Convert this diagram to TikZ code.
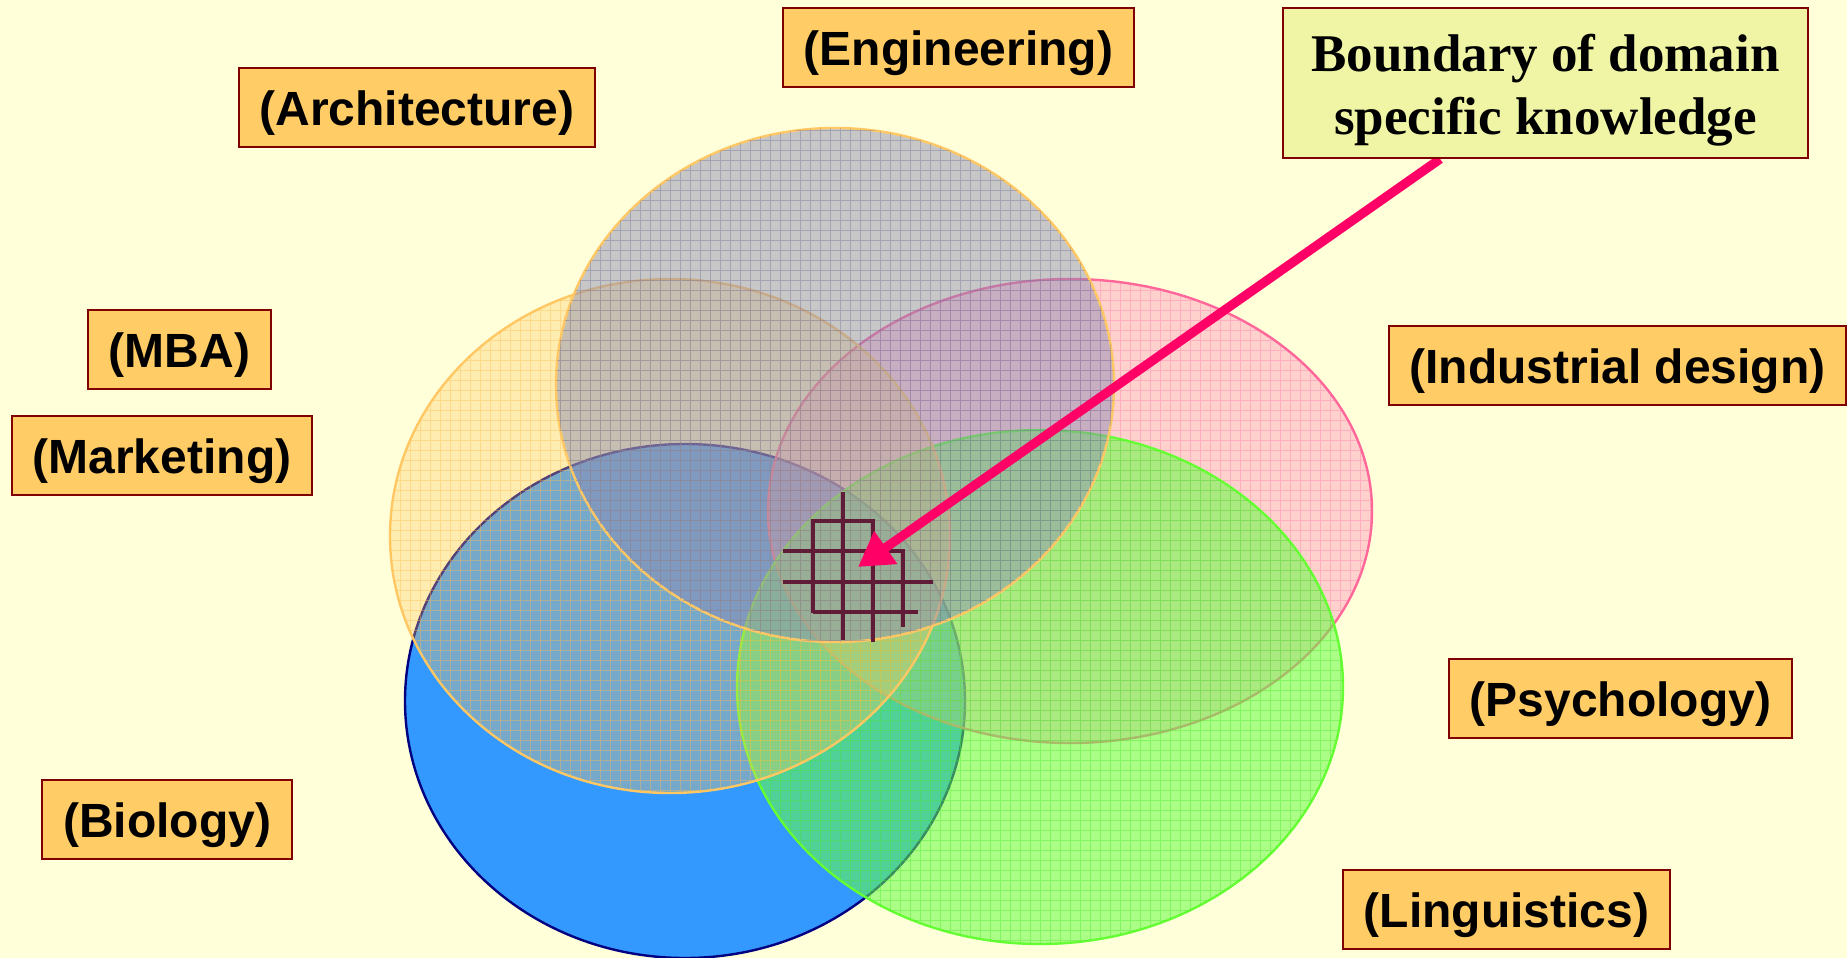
\documentclass[tikz,border=0pt]{standalone}
\usepackage{fontspec}
\setmainfont{Liberation Sans}
\newfontfamily\notefont{Liberation Serif}
\usetikzlibrary{arrows.meta,calc}

\definecolor{bg}{RGB}{255,255,218}
\definecolor{tagfill}{RGB}{255,204,102}
\definecolor{tagline}{RGB}{128,0,0}
\definecolor{notefill}{RGB}{240,245,165}
\definecolor{arrowpink}{RGB}{255,0,102}
\definecolor{hashcol}{RGB}{96,28,54}
\definecolor{engfill}{RGB}{140,140,180}
\definecolor{engweave}{RGB}{110,110,150}
\definecolor{engline}{RGB}{255,200,100}
\definecolor{archfill}{RGB}{255,200,96}
\definecolor{archweave}{RGB}{255,190,80}
\definecolor{archline}{RGB}{255,200,100}
\definecolor{indfill}{RGB}{255,153,190}
\definecolor{indweave}{RGB}{255,120,170}
\definecolor{indline}{RGB}{255,102,153}
\definecolor{lingfill}{RGB}{102,255,68}
\definecolor{lingweave}{RGB}{70,230,40}
\definecolor{lingline}{RGB}{102,255,51}
\definecolor{biofill}{RGB}{51,153,255}
\definecolor{bioline}{RGB}{0,0,128}

\pgfdeclarelayer{front}
\pgfsetlayers{main,front}

% lowers a line of text without changing its box
\newcommand\sinkline[2]{\raisebox{-#1}[\height][\depth]{#2}}

\begin{document}
\begin{tikzpicture}[x=0.5pt,y=-0.5pt,
  tag/.style={draw=tagline, line width=1pt, fill=tagfill, anchor=north west,
    inner sep=0pt, minimum height=39.5pt, text height=20pt, text depth=2.5pt,
    font=\fontsize{24}{28}\selectfont\bfseries},
  note/.style={draw=tagline, line width=1pt, fill=notefill, anchor=north west,
    inner sep=0pt, minimum width=262.5pt, minimum height=75pt, align=center,
    font=\notefont\fontsize{26.5}{31.5}\selectfont\bfseries},
  fieldset/.style={line width=1.2pt},
  weave/.style={draw=#1, line width=0.5pt, draw opacity=0.4, step=5pt},
  hash/.style={draw=hashcol, line width=2.1pt},
  pointer/.style={draw=arrowpink, line width=4.6pt,
    -{Triangle[length=17pt,width=19pt]}}]

% canvas
\useasboundingbox (0,0) rectangle (1847,958);
\fill[bg] (0,0) rectangle (1847,958);

% knowledge domains, each a translucent woven ellipse
\filldraw[fieldset, fill=biofill, draw=bioline] (685,701) ellipse [x radius=140pt, y radius=128.5pt];

\filldraw[fieldset, fill=indfill, fill opacity=0.45, draw=indline] (1070,511) ellipse [x radius=151pt, y radius=116pt];
\begin{scope}
  \clip (1070,511) ellipse [x radius=151pt, y radius=116pt];
  \draw[weave=indweave] (760,270) grid (1380,760);
\end{scope}

\filldraw[fieldset, fill=lingfill, fill opacity=0.55, draw=lingline] (1040,687) ellipse [x radius=151.5pt, y radius=128.5pt];
\begin{scope}
  \clip (1040,687) ellipse [x radius=151.5pt, y radius=128.5pt];
  \draw[weave=lingweave] (730,420) grid (1350,950);
\end{scope}

\filldraw[fieldset, fill=archfill, fill opacity=0.33, draw=archline] (670,536) ellipse [x radius=140pt, y radius=128.5pt];
\begin{scope}
  \clip (670,536) ellipse [x radius=140pt, y radius=128.5pt];
  \draw[weave=archweave] (380,270) grid (960,800);
\end{scope}

\filldraw[fieldset, fill=engfill, fill opacity=0.48, draw=engline] (835,385) ellipse [x radius=139.5pt, y radius=128.5pt];
\begin{scope}
  \clip (835,385) ellipse [x radius=139.5pt, y radius=128.5pt];
  \draw[weave=engweave] (550,120) grid (1120,650);
\end{scope}

% grid at the shared core
\draw[hash] (813,613) -- (813,521) -- (873,521) -- (873,642);
\draw[hash] (813,612) -- (918,612);
\draw[hash] (843,492) -- (843,640);
\draw[hash] (783,551) -- (903,551) -- (903,627);
\draw[hash] (783,582) -- (933,582);

% labels
\begin{pgfonlayer}{front}
\node[tag, minimum width=175.5pt] (eng)  at (782,7)    {(Engineering)};
\node[tag, minimum width=178pt]   (arch) at (238,67)   {(Architecture)};
\node[tag, minimum width=91.5pt]  (mba)  at (87,309)   {(MBA)};
\node[tag, minimum width=150pt]   (mkt)  at (11,415)   {(Marketing)};
\node[tag, minimum width=228.5pt] (ind)  at (1388,325) {(Industrial design)};
\node[tag, minimum width=171.5pt] (psy)  at (1448,658) {(Psychology)};
\node[tag, minimum width=125pt]   (bio)  at (41,779)   {(Biology)};
\node[tag, minimum width=163.5pt] (ling) at (1342,869) {(Linguistics)};
\node[note] (bnd) at (1282,7)
  {\sinkline{3.5pt}{Boundary of domain}\\\sinkline{3.5pt}{specific knowledge}};
\end{pgfonlayer}

% pointer to the core
\coordinate (core) at (858,567);
\draw[pointer] ($(bnd.south west)!0.3!(bnd.south east)$) -- (core);

\end{tikzpicture}
\end{document}
